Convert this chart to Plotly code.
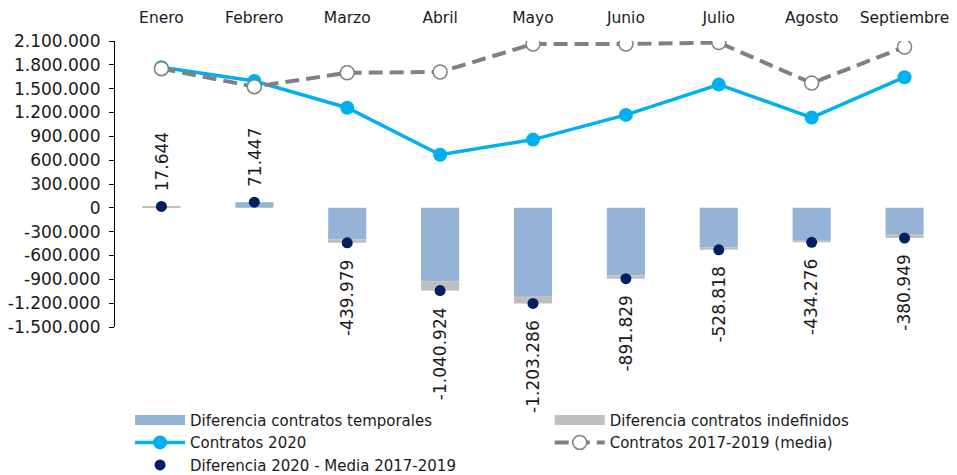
import plotly.graph_objects as go

months = ["Enero", "Febrero", "Marzo", "Abril", "Mayo", "Junio", "Julio", "Agosto", "Septiembre"]
dif_temporales = [2000, 68000, -400000, -925000, -1110000, -850000, -500000, -405000, -330000]
dif_indefinidos = [15644, 3447, -39979, -115924, -93286, -41829, -28818, -29276, -50949]
contratos_2020 = [1770000, 1597000, 1260000, 669000, 859000, 1170000, 1551000, 1136000, 1644000]
contratos_media = [1752000, 1525000, 1700000, 1710000, 2062000, 2062000, 2080000, 1570000, 2025000]
dif_total = [17644, 71447, -439979, -1040924, -1203286, -891829, -528818, -434276, -380949]

y_min, y_max, y_step = -1500000, 2100000, 300000
y_ticks = list(range(y_min, y_max + 1, y_step))


def es_num(v):
    s = f"{abs(v):,d}".replace(",", ".")
    return ("-" if v < 0 else "") + s


y_tick_labels = [es_num(v) for v in y_ticks]

FONT = "DejaVu Sans"
TXT = "#1a1a1a"
C_TEMP = "#95B3D7"
C_INDEF = "#BFBFBF"

fig = go.Figure()
fig.add_trace(go.Bar(x=months, y=dif_temporales, name="Diferencia contratos temporales",
                     marker=dict(color=C_TEMP, line=dict(width=0)), showlegend=False,
                     legendgroup="temp"))
fig.add_trace(go.Bar(x=months, y=dif_indefinidos, name="Diferencia contratos indefinidos",
                     marker=dict(color=C_INDEF, line=dict(width=0)), showlegend=False,
                     legendgroup="indef"))
# legend keys for the bars (wide rectangles, as in the original)
fig.add_trace(go.Scatter(x=[None], y=[None], mode="lines", name="Diferencia contratos temporales",
                         line=dict(color=C_TEMP, width=12), legendgroup="temp", legend="legend"))
fig.add_trace(go.Scatter(x=[None], y=[None], mode="lines", name="Diferencia contratos indefinidos",
                         line=dict(color=C_INDEF, width=12), legendgroup="indef", legend="legend2"))
fig.add_trace(go.Scatter(x=months, y=contratos_2020, name="Contratos 2020", mode="lines+markers",
                         line=dict(color="#00B0F0", width=3.5),
                         marker=dict(size=14, color="#00B0F0"), legend="legend"))
fig.add_trace(go.Scatter(x=months, y=contratos_media, name="Contratos 2017-2019 (media)",
                         mode="lines+markers",
                         line=dict(color="#808080", width=4, dash="14px,7px"),
                         marker=dict(size=14, color="white", line=dict(color="#808080", width=1.5)),
                         legend="legend2"))
fig.add_trace(go.Scatter(x=months, y=dif_total, name="Diferencia 2020 - Media 2017-2019",
                         mode="markers", marker=dict(size=11, color="#002060"), legend="legend"))

for m, v in zip(months, dif_total):
    neg = v < 0
    fig.add_annotation(x=m, y=v, text=es_num(v), textangle=-90, showarrow=False,
                       yanchor="top" if neg else "bottom", xanchor="center",
                       yshift=-15 if neg else 13,
                       font=dict(family=FONT, size=17, color=TXT))

n = len(months)
zero_pos = (0 - y_min) / (y_max - y_min)

legend_common = dict(orientation="v", yanchor="top", xanchor="left", itemwidth=50,
                     font=dict(family=FONT, size=15, color=TXT), tracegroupgap=0,
                     bgcolor="rgba(0,0,0,0)", borderwidth=0)

fig.update_layout(
    width=957, height=475,
    margin=dict(l=115, r=6, t=41, b=148, autoexpand=False),
    paper_bgcolor="white", plot_bgcolor="white",
    barmode="relative", bargap=0.59,
    font=dict(family=FONT, size=16, color=TXT),
    showlegend=True,
    legend=dict(x=0.018, y=-0.268, **legend_common),
    legend2=dict(x=0.52, y=-0.268, **legend_common),
    xaxis=dict(side="top", type="category", range=[-0.5, n - 0.5], showline=False,
               ticks="", showgrid=False, ticklabelstandoff=14,
               tickfont=dict(family=FONT, size=15.5, color=TXT)),
    xaxis2=dict(overlaying="x", anchor="free", position=zero_pos, type="linear",
                range=[-0.5, n - 0.5], tickvals=[i - 0.5 for i in range(n + 1)],
                ticks="outside", ticklen=6, tickcolor="black", tickwidth=1.2,
                showline=True, linecolor="black", linewidth=1.5,
                showticklabels=False, showgrid=False, zeroline=False),
    yaxis=dict(range=[y_min, y_max], tickvals=y_ticks, ticktext=y_tick_labels,
               showline=True, linecolor="black", linewidth=1.2, ticks="outside",
               ticklen=5, tickcolor="black", showgrid=False, zeroline=False,
               ticklabelstandoff=5,
               tickfont=dict(family=FONT, size=17, color=TXT)),
)

fig.write_html("out.html", post_script="document.body.style.margin='0';",
               config={"displayModeBar": False})
